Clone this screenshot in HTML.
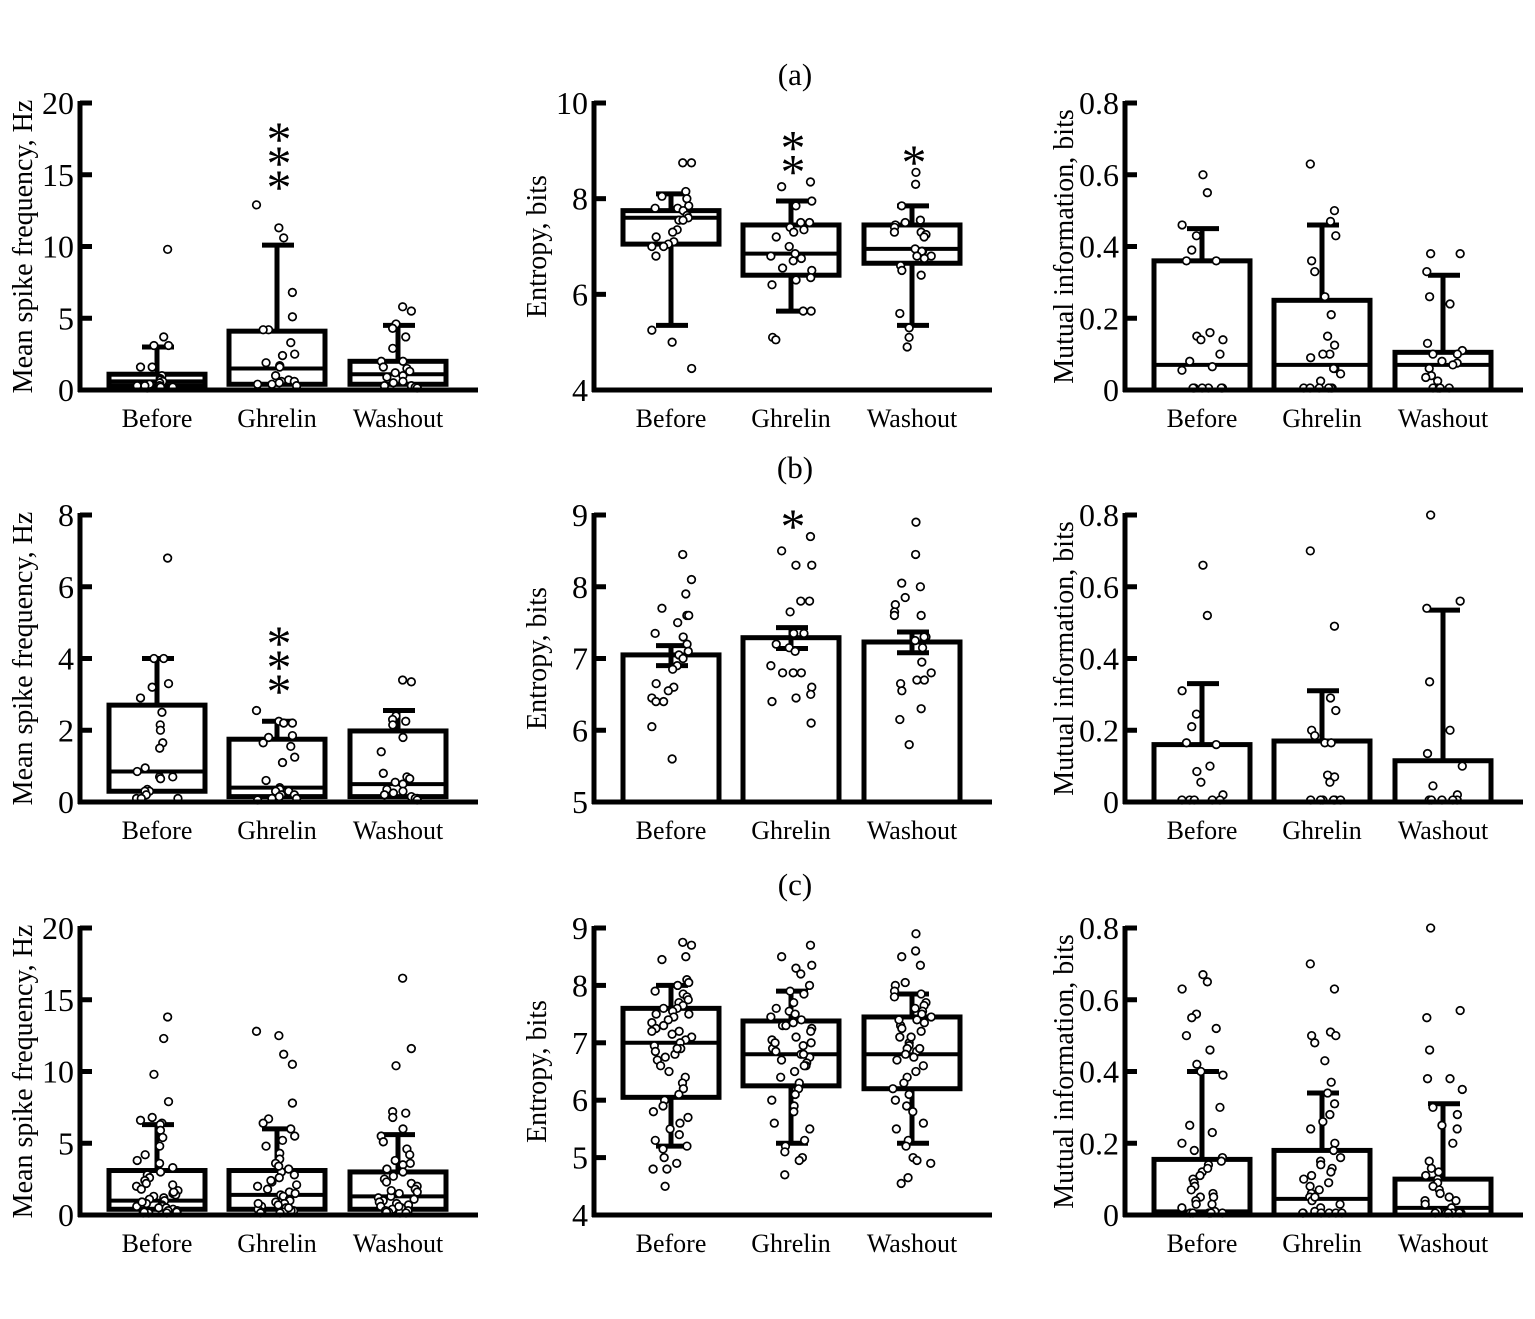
<!DOCTYPE html>
<html><head><meta charset="utf-8">
<style>
html,body{margin:0;padding:0;background:#fff;}
svg{display:block;font-family:"Liberation Serif",serif;}
</style></head>
<body>
<svg id="fig" width="1535" height="1319" viewBox="0 0 1535 1319" xmlns="http://www.w3.org/2000/svg">
<rect width="1535" height="1319" fill="#fff"/>
<text x="795" y="85" font-size="31" text-anchor="middle">(a)</text>
<text x="795" y="478" font-size="31" text-anchor="middle">(b)</text>
<text x="795" y="895" font-size="31" text-anchor="middle">(c)</text>
</svg>
<script>
const categories=['Before','Ghrelin','Washout'];

// ---- Row a, frequency
const a1_q1=[0.3,0.4,0.4], a1_med=[0.6,1.5,1.1], a1_q3=[1.1,4.1,2.0], a1_lo=[null,null,null], a1_hi=[3.0,10.1,4.5];
const a1_p0=[9.8,3.7,3.1,3.1,1.6,1.6,1.0,0.8,0.7,0.6,0.5,0.4,0.3,0.3,0.2,0.2,0.1,0.4,0.3];
const a1_p1=[12.9,11.3,10.6,6.8,5.1,4.2,4.2,3.3,2.5,2.4,1.9,1.7,1.6,1.0,0.7,0.6,0.6,0.5,0.4,0.3,0.4];
const a1_p2=[5.8,5.5,4.6,4.3,3.7,2.9,2.0,2.0,1.6,1.5,1.3,1.2,1.0,0.9,0.6,0.5,0.3,0.3,0.2,0.2,0.1];
const a1_stars=[0,3,0], a1_starAt=[0,14.9,0];
// ---- Row a, entropy
const a2_q1=[7.05,6.4,6.65], a2_med=[7.6,6.85,6.95], a2_q3=[7.75,7.45,7.45], a2_lo=[5.35,5.65,5.35], a2_hi=[8.1,7.95,7.85];
const a2_p0=[8.75,8.75,8.15,8.05,8.0,7.85,7.8,7.8,7.75,7.65,7.6,7.55,7.55,7.35,7.3,7.2,7.1,7.05,7.0,7.0,6.8,5.25,5.0,4.45];
const a2_p1=[8.35,8.25,7.95,7.85,7.5,7.5,7.4,7.35,7.3,7.2,7.0,6.85,6.8,6.75,6.7,6.55,6.5,6.35,6.3,6.2,5.65,5.65,5.1,5.05];
const a2_p2=[8.55,8.3,7.85,7.55,7.5,7.45,7.4,7.3,7.3,7.25,7.2,6.95,6.9,6.9,6.8,6.8,6.75,6.6,6.5,6.4,5.6,5.3,5.1,4.9];
const a2_stars=[0,2,1], a2_starAt=[0,8.8,9.0];
// ---- Row a, mutual information
const a3_q1=[0,0,0], a3_med=[0.07,0.07,0.07], a3_q3=[0.36,0.25,0.105], a3_lo=[null,null,null], a3_hi=[0.45,0.46,0.32];
const a3_p0=[0.6,0.55,0.46,0.43,0.39,0.36,0.36,0.16,0.15,0.14,0.14,0.1,0.08,0.065,0.055,0,0,0,0,0,0];
const a3_p1=[0.63,0.5,0.47,0.43,0.36,0.33,0.26,0.21,0.15,0.125,0.1,0.1,0.09,0.06,0.06,0.045,0.025,0,0,0,0,0,0];
const a3_p2=[0.38,0.38,0.33,0.26,0.24,0.13,0.11,0.1,0.1,0.08,0.075,0.07,0.06,0.04,0.035,0.025,0,0,0,0,0];
const a3_stars=[0,0,0], a3_starAt=[0,0,0];

// ---- Row b, frequency
const b1_q1=[0.3,0.15,0.15], b1_med=[0.85,0.4,0.5], b1_q3=[2.7,1.75,1.98], b1_lo=[null,null,null], b1_hi=[4.0,2.25,2.55];
const b1_p0=[6.8,4.0,4.0,3.3,3.2,2.9,2.5,2.15,2.0,1.65,1.5,0.95,0.85,0.7,0.7,0.65,0.35,0.3,0.3,0.2,0.1,0.1,0.1];
const b1_p1=[2.55,2.25,2.2,2.2,1.85,1.8,1.65,1.55,1.25,1.1,0.6,0.4,0.35,0.3,0.3,0.2,0.2,0.15,0.1,0.1,0.05];
const b1_p2=[3.4,3.35,2.4,2.3,2.25,2.15,1.8,1.4,0.8,0.7,0.65,0.55,0.5,0.35,0.3,0.25,0.2,0.15,0.1,0.1,0.05];
const b1_stars=[0,3,0], b1_starAt=[0,3.4,0];
// ---- Row b, entropy (bars with error)
const b2_mean=[7.05,7.29,7.23], b2_errLo=[6.9,7.14,7.08], b2_errHi=[7.18,7.43,7.37];
const b2_p0=[8.45,8.1,7.9,7.7,7.6,7.6,7.5,7.35,7.3,7.2,7.1,7.05,7.0,6.9,6.85,6.65,6.6,6.55,6.45,6.4,6.4,6.05,5.6];
const b2_p1=[8.7,8.5,8.3,8.3,7.8,7.8,7.65,7.35,7.35,7.2,7.15,7.1,6.9,6.8,6.8,6.8,6.6,6.5,6.45,6.4,6.1];
const b2_p2=[8.9,8.45,8.05,8.0,7.85,7.75,7.65,7.6,7.6,7.3,7.3,7.25,7.15,6.95,6.8,6.7,6.7,6.65,6.55,6.3,6.15,5.8];
const b2_stars=[0,1,0], b2_starAt=[0,9.0,0];
// ---- Row b, mutual information (bars with error)
const b3_mean=[0.16,0.17,0.115], b3_errLo=[null,null,null], b3_errHi=[0.33,0.31,0.535];
const b3_p0=[0.66,0.52,0.31,0.245,0.21,0.16,0.165,0.1,0.085,0.055,0.02,0,0,0,0,0];
const b3_p1=[0.7,0.49,0.29,0.255,0.2,0.185,0.165,0.165,0.075,0.07,0.055,0,0,0,0,0,0];
const b3_p2=[0.8,0.56,0.54,0.335,0.2,0.135,0.1,0.045,0.02,0,0,0,0,0];
const b3_stars=[0,0,0], b3_starAt=[0,0,0];

// ---- Row c, frequency
const c1_q1=[0.4,0.4,0.4], c1_med=[1.0,1.4,1.3], c1_q3=[3.1,3.1,3.0], c1_lo=[null,null,null], c1_hi=[6.3,6.0,5.6];
const c1_p0=[13.8,12.3,9.8,7.9,6.8,6.6,6.4,6.3,5.9,5.4,4.8,4.2,3.8,3.6,3.3,3.0,2.8,2.6,2.4,2.2,2.0,1.8,1.7,1.5,1.4,1.3,1.2,1.1,1.0,0.9,0.8,0.7,0.6,0.5,0.5,0.4,0.3,0.3,0.2,0.2,0.1,0.1,0.1,0.6,0.9,1.6,2.1,0.2];
const c1_p1=[12.8,12.5,11.2,10.5,7.8,6.7,6.4,6.0,5.5,5.2,4.8,4.3,3.9,3.6,3.2,3.0,2.8,2.6,2.3,2.1,2.0,1.8,1.6,1.4,1.3,1.1,1.0,0.9,0.8,0.7,0.6,0.5,0.4,0.3,0.3,0.2,0.2,0.1,0.1,1.5,2.4,0.5,0.8,3.4];
const c1_p2=[16.5,11.6,10.4,7.2,7.1,6.8,6.0,5.5,5.1,4.6,4.2,3.8,3.5,3.2,3.0,2.7,2.5,2.2,2.0,1.8,1.6,1.5,1.3,1.2,1.0,0.9,0.8,0.7,0.6,0.5,0.4,0.3,0.3,0.2,0.2,0.1,0.1,1.7,2.3,0.6,1.1,3.6];
const c1_stars=[0,0,0], c1_starAt=[0,0,0];
// ---- Row c, entropy
const c2_q1=[6.05,6.25,6.2], c2_med=[7.0,6.8,6.8], c2_q3=[7.6,7.38,7.45], c2_lo=[5.2,5.25,5.25], c2_hi=[8.0,7.9,7.85];
const c2_p0=[8.75,8.7,8.5,8.45,8.1,8.05,8.0,7.9,7.85,7.8,7.75,7.7,7.65,7.6,7.55,7.5,7.45,7.4,7.35,7.3,7.25,7.2,7.15,7.1,7.05,7.0,6.95,6.9,6.85,6.8,6.75,6.7,6.6,6.5,6.4,6.3,6.2,6.1,6.0,5.9,5.8,5.7,5.6,5.5,5.4,5.3,5.2,5.15,5.0,4.9,4.8,4.8,4.5,7.5,7.2,6.9,7.6];
const c2_p1=[8.7,8.5,8.35,8.3,8.2,8.0,7.9,7.85,7.7,7.6,7.55,7.5,7.45,7.4,7.35,7.3,7.25,7.2,7.1,7.05,7.0,6.95,6.9,6.85,6.8,6.75,6.7,6.65,6.6,6.5,6.4,6.3,6.2,6.1,6.0,5.9,5.8,5.6,5.5,5.3,5.2,5.1,5.0,4.95,4.7,7.3,7.0,6.8,6.6];
const c2_p2=[8.9,8.6,8.5,8.35,8.05,8.0,7.9,7.85,7.8,7.7,7.65,7.6,7.55,7.5,7.45,7.4,7.35,7.3,7.25,7.2,7.1,7.0,6.95,6.9,6.85,6.8,6.75,6.7,6.6,6.5,6.4,6.3,6.2,6.1,6.0,5.9,5.8,5.6,5.5,5.3,5.2,5.0,4.95,4.9,4.65,4.55,7.4,7.1,6.9];
const c2_stars=[0,0,0], c2_starAt=[0,0,0];
// ---- Row c, mutual information
const c3_q1=[0,0,0], c3_med=[0.01,0.045,0.02], c3_q3=[0.155,0.18,0.1], c3_lo=[null,null,null], c3_hi=[0.4,0.34,0.31];
const c3_p0=[0.67,0.65,0.63,0.56,0.55,0.52,0.5,0.46,0.42,0.4,0.39,0.3,0.25,0.23,0.2,0.18,0.16,0.15,0.14,0.12,0.1,0.09,0.08,0.07,0.06,0.05,0.05,0.04,0.03,0.02,0.01,0,0,0,0,0,0,0.11,0.13,0.03];
const c3_p1=[0.7,0.63,0.51,0.5,0.5,0.48,0.43,0.37,0.34,0.31,0.28,0.26,0.24,0.2,0.18,0.16,0.15,0.13,0.12,0.1,0.09,0.08,0.07,0.06,0.05,0.04,0.03,0.02,0.01,0,0,0,0,0,0,0.11,0.05,0.14];
const c3_p2=[0.8,0.57,0.55,0.46,0.38,0.38,0.35,0.3,0.28,0.25,0.24,0.2,0.15,0.13,0.11,0.1,0.09,0.08,0.07,0.06,0.05,0.04,0.03,0.02,0.01,0,0,0,0,0,0,0.12,0.04];
const c3_stars=[0,0,0], c3_starAt=[0,0,0];

const NS='http://www.w3.org/2000/svg';
const svg=document.getElementById('fig');
function mk(tag,attrs,parent){const e=document.createElementNS(NS,tag);for(const k in attrs)e.setAttribute(k,attrs[k]);(parent||svg).appendChild(e);return e;}
function jitter(k,i){const s=Math.sin(k*12.9898+i*78.233+1.7)*43758.5453;return (s-Math.floor(s))*42-21;}

function drawPanel(id,ax,yT,yB,min,max,ticks,tickFmt,title,box,bar,pts,stars,starAt){
  const g=mk('g',{});
  
  
  const sy=v=>yB-(v-min)/(max-min)*(yB-yT);
  const offs=[77,197,318];
  const sx=i=>ax+offs[i];
  const hw=48;
  for(let i=0;i<3;i++){
    const cx=sx(i);
    const gg=mk('g',{},g);
    
    
    let topV, botV;
    if(box){ topV=box.q3[i]; botV=box.q1[i]; }
    else { topV=bar.mean[i]; botV=min; }
    const hiV = box?box.hi[i]:bar.hi[i];
    const loV = box?box.lo[i]:bar.lo[i];
    const r=mk('rect',{x:cx-hw,y:sy(topV),width:2*hw,height:sy(botV)-sy(topV),fill:'#fff',stroke:'#000','stroke-width':5},gg);
    
    
    if(hiV!=null){
      const l=mk('line',{x1:cx,x2:cx,y1:sy(topV),y2:sy(hiV),stroke:'#000','stroke-width':5},gg);
      
      
      const c=mk('line',{x1:cx-15,x2:cx+17,y1:sy(hiV),y2:sy(hiV),stroke:'#000','stroke-width':5},gg);
      
      
    }
    if(loV!=null){
      const from = box?box.q1[i]:bar.mean[i];
      const l=mk('line',{x1:cx,x2:cx,y1:sy(from),y2:sy(loV),stroke:'#000','stroke-width':5},gg);
      
      
      const c=mk('line',{x1:cx-15,x2:cx+17,y1:sy(loV),y2:sy(loV),stroke:'#000','stroke-width':5},gg);
      
      
    }
    if(box){
      const m=mk('line',{x1:cx-hw,x2:cx+hw,y1:sy(box.med[i]),y2:sy(box.med[i]),stroke:'#000','stroke-width':4},gg);
      
      
    }
    pts[i].forEach((v,k)=>{
      const jit=jitter(k,i+ax);
      const c=mk('circle',{cx:cx+jit,cy:Math.min(sy(v),yB-2),r:3.8,fill:'#fff',stroke:'#000','stroke-width':1.7},gg);
      
      
    });
    for(let s=0;s<stars[i];s++){
      const cy=sy(starAt[i])-s*24;
      const t=mk('text',{x:cx+2,y:cy+28,'font-size':50,'text-anchor':'middle'},gg);
      t.textContent='*';
      
      
    }
  }
  const ya=mk('line',{x1:ax,x2:ax,y1:yT-2,y2:yB+2,stroke:'#000','stroke-width':5},g);
  
  
  const xa=mk('line',{x1:ax-2,x2:ax+398,y1:yB,y2:yB,stroke:'#000','stroke-width':5},g);
  
  
  ticks.forEach(t=>{
    const y=sy(t);
    const l=mk('line',{x1:ax,x2:ax+12,y1:y,y2:y,stroke:'#000','stroke-width':5},g);
    
    
    const tx=mk('text',{x:ax-6,y:y+11,'font-size':32,'text-anchor':'end'},g);
    tx.textContent=tickFmt(t);
    
    
  });
  for(let i=0;i<3;i++){
    const tx=mk('text',{x:sx(i),y:yB+37,'font-size':26,'text-anchor':'middle'},g);
    tx.textContent=categories[i];
    
    
  }
  const off = title.startsWith('Mutual')?52:48;
  const tt=mk('text',{x:0,y:0,'font-size':28,'text-anchor':'middle',transform:`translate(${ax-off},${(yT+yB)/2}) rotate(-90)`},g);
  tt.textContent=title;
  
  
}
const fInt=v=>String(v), fMI=v=>v===0?'0':v.toFixed(1);
const FT='Mean spike frequency, Hz', ET='Entropy, bits', MT='Mutual information, bits';
function B(q1,med,q3,lo,hi){return {q1,med,q3,lo,hi};}
function R(mean,lo,hi){return {mean,lo,hi};}

drawPanel('a-frequency',80,103,390,0,20,[0,5,10,15,20],fInt,FT,B(a1_q1,a1_med,a1_q3,a1_lo,a1_hi),null,[a1_p0,a1_p1,a1_p2],a1_stars,a1_starAt);
drawPanel('a-entropy',594,103,390,4,10,[4,6,8,10],fInt,ET,B(a2_q1,a2_med,a2_q3,a2_lo,a2_hi),null,[a2_p0,a2_p1,a2_p2],a2_stars,a2_starAt);
drawPanel('a-mutual-info',1125,103,390,0,0.8,[0,0.2,0.4,0.6,0.8],fMI,MT,B(a3_q1,a3_med,a3_q3,a3_lo,a3_hi),null,[a3_p0,a3_p1,a3_p2],a3_stars,a3_starAt);

drawPanel('b-frequency',80,515,802,0,8,[0,2,4,6,8],fInt,FT,B(b1_q1,b1_med,b1_q3,b1_lo,b1_hi),null,[b1_p0,b1_p1,b1_p2],b1_stars,b1_starAt);
drawPanel('b-entropy',594,515,802,5,9,[5,6,7,8,9],fInt,ET,null,R(b2_mean,b2_errLo,b2_errHi),[b2_p0,b2_p1,b2_p2],b2_stars,b2_starAt);
drawPanel('b-mutual-info',1125,515,802,0,0.8,[0,0.2,0.4,0.6,0.8],fMI,MT,null,R(b3_mean,b3_errLo,b3_errHi),[b3_p0,b3_p1,b3_p2],b3_stars,b3_starAt);

drawPanel('c-frequency',80,928,1215,0,20,[0,5,10,15,20],fInt,FT,B(c1_q1,c1_med,c1_q3,c1_lo,c1_hi),null,[c1_p0,c1_p1,c1_p2],c1_stars,c1_starAt);
drawPanel('c-entropy',594,928,1215,4,9,[4,5,6,7,8,9],fInt,ET,B(c2_q1,c2_med,c2_q3,c2_lo,c2_hi),null,[c2_p0,c2_p1,c2_p2],c2_stars,c2_starAt);
drawPanel('c-mutual-info',1125,928,1215,0,0.8,[0,0.2,0.4,0.6,0.8],fMI,MT,B(c3_q1,c3_med,c3_q3,c3_lo,c3_hi),null,[c3_p0,c3_p1,c3_p2],c3_stars,c3_starAt);
</script>
</body></html>
